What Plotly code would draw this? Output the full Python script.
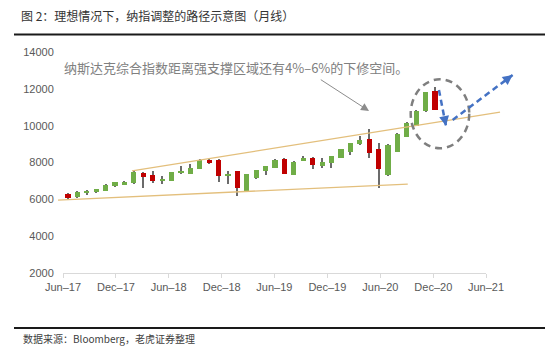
import datetime as dt
import plotly.graph_objects as go

# ---------------- data ----------------
months = ['Jun-17', 'Jul-17', 'Aug-17', 'Sep-17', 'Oct-17', 'Nov-17', 'Dec-17',
          'Jan-18', 'Feb-18', 'Mar-18', 'Apr-18', 'May-18', 'Jun-18', 'Jul-18',
          'Aug-18', 'Sep-18', 'Oct-18', 'Nov-18', 'Dec-18', 'Jan-19', 'Feb-19',
          'Mar-19', 'Apr-19', 'May-19', 'Jun-19', 'Jul-19', 'Aug-19', 'Sep-19',
          'Oct-19', 'Nov-19', 'Dec-19', 'Jan-20', 'Feb-20', 'Mar-20', 'Apr-20',
          'May-20', 'Jun-20', 'Jul-20', 'Aug-20', 'Sep-20']
open_ = [6290, 6130, 6330, 6390, 6450, 6720, 6800, 6880, 7420, 7300,
         6990, 6990, 7440, 7380, 7650, 8140, 8150, 7270, 7530, 6430,
         7150, 7540, 7720, 8210, 7330, 8090, 8240, 7830, 7960, 8260,
         8590, 8990, 9260, 8710, 7320, 8590, 9400, 9990, 10770, 11900]
high = [6320, 6430, 6520, 6560, 6830, 6950, 7000, 7520, 7480, 7560,
        7270, 7510, 7790, 7900, 8170, 8170, 8170, 7550, 7560, 7380,
        7620, 7820, 8200, 8230, 8080, 8340, 8280, 8240, 8360, 8730,
        9060, 9440, 9840, 9070, 8980, 9580, 10220, 10840, 11830, 12110]
low = [6040, 6090, 6230, 6350, 6430, 6690, 6770, 6860, 6620, 6880,
       6820, 6970, 7390, 7350, 7630, 7920, 6930, 6820, 6200, 6410,
       7130, 7330, 7700, 7360, 7310, 8060, 7650, 7720, 7690, 8250,
       8400, 8970, 8260, 6630, 7290, 8570, 9380, 9970, 10750, 10830]
close = [6060, 6380, 6470, 6540, 6800, 6920, 6960, 7460, 7230, 7020,
         7130, 7480, 7540, 7700, 8150, 7990, 7250, 7370, 6620, 7350,
         7580, 7790, 8160, 7380, 8040, 8250, 7870, 8040, 8330, 8710,
         9040, 9220, 8500, 7630, 8950, 9550, 10160, 10800, 11810, 10850]

tick_dates = ['2017-06-01', '2017-12-01', '2018-06-01', '2018-12-01', '2019-06-01',
              '2019-12-01', '2020-06-01', '2020-12-01', '2021-06-01']
tick_labels = ['Jun–17', 'Dec–17', 'Jun–18', 'Dec–18', 'Jun–19',
               'Dec–19', 'Jun–20', 'Dec–20', 'Jun–21']
y_ticks = [2000, 4000, 6000, 8000, 10000, 12000, 14000]
y_tick_labels = ['2000', '4000', '6000', '8000', '10000', '12000', '14000']

# support / resistance lines and projected path (candle index, value)
lower_line = [(-1.06, 5960), (36.1, 6830)]
upper_line = [(6.8, 7540), (45.9, 10740)]
focus_ellipse = [(36.41, 8771), (42.63, 12518)]
path_down = [(39.41, 11940), (40.16, 9980)]
path_up = [(40.87, 10310), (47.24, 12750)]
note_arrow = [(26.7, 12550), (31.98, 10800)]

# ---------------- layout geometry ----------------
W, H = 558, 360
OFF = 8                       # page body margin
PL, PR, PT, PB = 63 - OFF, 486 - OFF, 52 - OFF, 273 - OFF
X0, X1 = -0.531, 44.41
Y0, Y1 = 2000, 14000


def dp(i, v):
    return (i - X0) / (X1 - X0), (v - Y0) / (Y1 - Y0)


def pp(px, py):
    return (px - OFF - PL) / (PR - PL), (PB - (py - OFF)) / (PB - PT)


# date ticks mapped onto the candle axis (axis spans first to last tick date)
d = [dt.date.fromisoformat(s) for s in tick_dates]
span = (d[-1] - d[0]).days
x_tickvals = [X0 + (X1 - X0) * (di - d[0]).days / span for di in d]

GREEN = '#70AD47'
RED = '#C00000'
colors = [GREEN if c >= o else RED for o, c in zip(open_, close)]
xs = list(range(len(months)))

fig = go.Figure()
fig.add_trace(go.Bar(
    x=xs, y=[h - l for h, l in zip(high, low)], base=low,
    width=0.12, marker=dict(color='#6b6b6b', line=dict(width=0)),
    hoverinfo='skip', showlegend=False))
fig.add_trace(go.Bar(
    x=xs, y=[abs(c - o) for o, c in zip(open_, close)],
    base=[min(o, c) for o, c in zip(open_, close)],
    width=0.55, marker=dict(color=colors, line=dict(width=0)),
    customdata=months, hovertemplate='%{customdata}<extra></extra>',
    showlegend=False))

shapes = []
for seg in (lower_line, upper_line):
    (xa, ya), (xb, yb) = dp(*seg[0]), dp(*seg[1])
    shapes.append(dict(type='line', xref='paper', yref='paper', x0=xa, y0=ya, x1=xb, y1=yb,
                       line=dict(color='#E3BF7C', width=1.3)))
(ex0, ey0), (ex1, ey1) = dp(*focus_ellipse[0]), dp(*focus_ellipse[1])
shapes.append(dict(type='circle', xref='paper', yref='paper', x0=ex0, y0=ey0, x1=ex1, y1=ey1,
                   line=dict(color='#7f7f7f', width=2.5, dash='7px,5px')))

annotations = []
BLUE = '#4472C4'
for seg in (path_down, path_up):
    (xa, ya), (xb, yb) = dp(*seg[0]), dp(*seg[1])
    shapes.append(dict(type='line', xref='paper', yref='paper', x0=xa, y0=ya, x1=xb, y1=yb,
                       line=dict(color=BLUE, width=2.5, dash='6px,4px')))
    dx = (xb - xa) * (PR - PL)
    dy = -(yb - ya) * (PB - PT)
    n = (dx ** 2 + dy ** 2) ** 0.5
    annotations.append(dict(xref='paper', yref='paper', x=xb, y=yb, text='',
                            showarrow=True, arrowhead=2, arrowsize=0.9, arrowwidth=2.2,
                            arrowcolor=BLUE, ax=-dx / n * 8, ay=-dy / n * 8))

# grey pointer arrow
(tx, ty), (hx, hy) = dp(*note_arrow[0]), dp(*note_arrow[1])
annotations.append(dict(xref='paper', yref='paper', x=hx, y=hy, text='',
                        showarrow=True, arrowhead=2, arrowsize=1.6, arrowwidth=1,
                        arrowcolor='#8c8c8c',
                        ax=(tx - hx) * (PR - PL), ay=-(ty - hy) * (PB - PT)))

nx, ny = pp(62, 68)
annotations.append(dict(xref='paper', yref='paper', x=nx, y=ny, xanchor='left', yanchor='middle',
                        text='纳斯达克综合指数距离强支撑区域还有4%–6%的下修空间。',
                        showarrow=False,
                        font=dict(size=13, color='#808080', family='Noto Sans CJK SC')))

fx, fy = pp(21, 338)
annotations.append(dict(xref='paper', yref='paper', x=fx, y=fy, xanchor='left', yanchor='middle',
                        text='数据来源：Bloomberg，老虎证券整理', showarrow=False,
                        font=dict(size=10, color='#404040', family='Noto Sans CJK SC')))

for py in (34.5, 328):
    lx0, ly = pp(14, py)
    lx1, _ = pp(545, py)
    shapes.append(dict(type='line', xref='paper', yref='paper', x0=lx0, y0=ly, x1=lx1, y1=ly,
                       line=dict(color='#1a1a1a', width=2)))

tx_, ty_ = 21 - OFF, 17 - OFF
fig.update_layout(
    width=W, height=H,
    margin=dict(l=PL, r=W - PR, t=PT, b=H - PB, pad=0),
    paper_bgcolor='white', plot_bgcolor='white',
    barmode='overlay', bargap=0,
    font=dict(family='Liberation Sans, Noto Sans CJK SC', size=11, color='#595959'),
    title=dict(text='图 2：理想情况下，纳指调整的路径示意图（月线）',
               x=tx_ / W, xanchor='left', xref='container',
               y=1 - ty_ / H, yanchor='middle', yref='container',
               font=dict(size=12, color='#333333', family='Noto Sans CJK SC')),
    xaxis=dict(range=[X0, X1], tickmode='array', tickvals=x_tickvals, ticktext=tick_labels,
               showline=True, linecolor='#d9d9d9', linewidth=1,
               ticks='outside', ticklen=4, tickcolor='#d9d9d9',
               showgrid=False, zeroline=False,
               tickfont=dict(size=11, color='#595959')),
    yaxis=dict(range=[Y0, Y1], tickmode='array', tickvals=y_ticks, ticktext=y_tick_labels,
               showgrid=False, zeroline=False, showline=False,
               ticks='outside', ticklen=6, tickcolor='rgba(0,0,0,0)',
               tickfont=dict(size=11, color='#595959')),
    shapes=shapes, annotations=annotations,
)

fig.write_html('out.html')
